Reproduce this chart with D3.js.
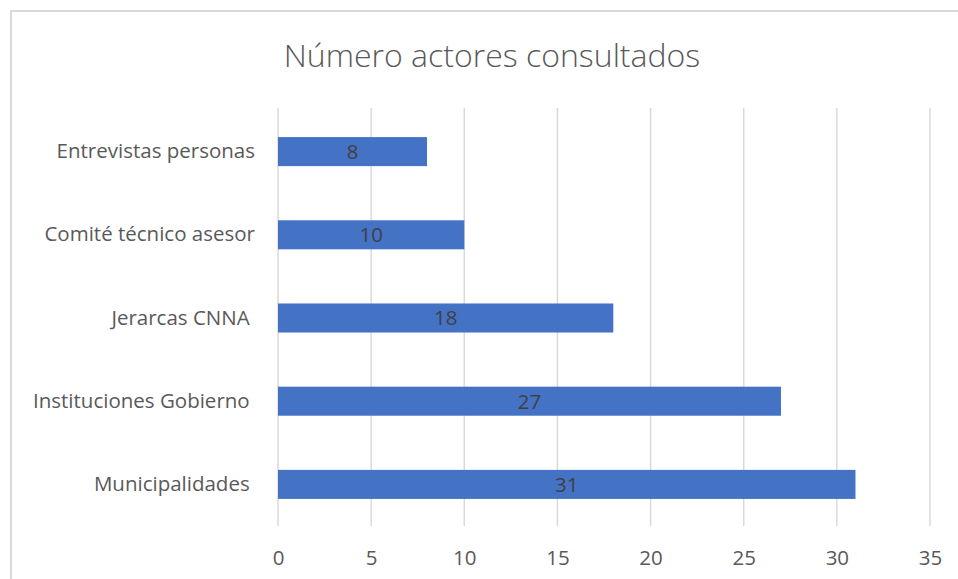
<!DOCTYPE html>
<html>
<head>
<meta charset="utf-8">
<script src="https://cdn.jsdelivr.net/npm/d3@7"></script>
<style>
  html, body { margin: 0; padding: 0; background: #fff; }
  svg { display: block; }
  text { font-family: "Open Sans", Lato, sans-serif; }
</style>
</head>
<body>
<svg id="chart" width="958" height="579"></svg>
<script>
const title = "Número actores consultados";
const categories = ["Entrevistas personas", "Comité técnico asesor", "Jerarcas CNNA ", "Instituciones Gobierno ", "Municipalidades "];
const values = [8, 10, 18, 27, 31];
const tickValues = [0, 5, 10, 15, 20, 25, 30, 35];

const FONT = "'Open Sans', Lato, sans-serif";
const svg = d3.select("#chart");
const W = 958, H = 579;
const margin = { left: 278, top: 110 };

svg.append("rect").attr("width", W).attr("height", H).attr("fill", "#fff");
// chart frame (left/top edges visible)
svg.append("rect")
  .attr("x", 11).attr("y", 11).attr("width", 980).attr("height", 600)
  .attr("fill", "none").attr("stroke", "#d9d9d9").attr("stroke-width", 2);

const x = d3.scaleLinear().domain([0, 35]).range([margin.left, 930]);
const y = d3.scaleBand().domain(categories).range([margin.top, 526])
  .paddingInner(0.651).paddingOuter(0.3255);

// gridlines
svg.append("g").selectAll("line").data(tickValues).join("line")
  .attr("x1", d => x(d)).attr("x2", d => x(d))
  .attr("y1", 108).attr("y2", 526)
  .attr("stroke", "#d9d9d9").attr("stroke-width", 1.5);

// x axis labels
const xAxis = d3.axisBottom(x).tickValues(tickValues).tickSize(0).tickPadding(0);
const gx = svg.append("g").attr("transform", "translate(0,550)").call(xAxis);
gx.select(".domain").remove();
gx.selectAll("text")
  .attr("fill", "#595959").attr("font-size", 20.5)
  .attr("dy", "0.71em")
  .style("font-family", FONT);

// y axis labels
const yAxis = d3.axisLeft(y).tickSize(0).tickPadding(0);
const gy = svg.append("g").attr("transform", "translate(255,0)").call(yAxis);
gy.select(".domain").remove();
gy.selectAll("text")
  .attr("fill", "#595959").attr("font-size", 20.5)
  .style("white-space", "pre")
  .style("font-family", FONT);

// bars
svg.append("g").selectAll("rect").data(values).join("rect")
  .attr("x", x(0))
  .attr("y", (d, i) => y(categories[i]))
  .attr("width", d => x(d) - x(0))
  .attr("height", y.bandwidth())
  .attr("fill", "#4472C4");

// data labels
svg.append("g").selectAll("text").data(values).join("text")
  .attr("x", d => (x(0) + x(d)) / 2)
  .attr("y", (d, i) => y(categories[i]) + y.bandwidth() / 2)
  .attr("dy", "0.36em")
  .attr("text-anchor", "middle")
  .attr("fill", "#404040").attr("font-size", 20.5)
  .text(d => d);

// title
svg.append("text")
  .attr("x", 492).attr("y", 67)
  .attr("text-anchor", "middle")
  .attr("fill", "#595959").attr("font-size", 32).attr("font-weight", 300)
  .text(title);
</script>
</body>
</html>
